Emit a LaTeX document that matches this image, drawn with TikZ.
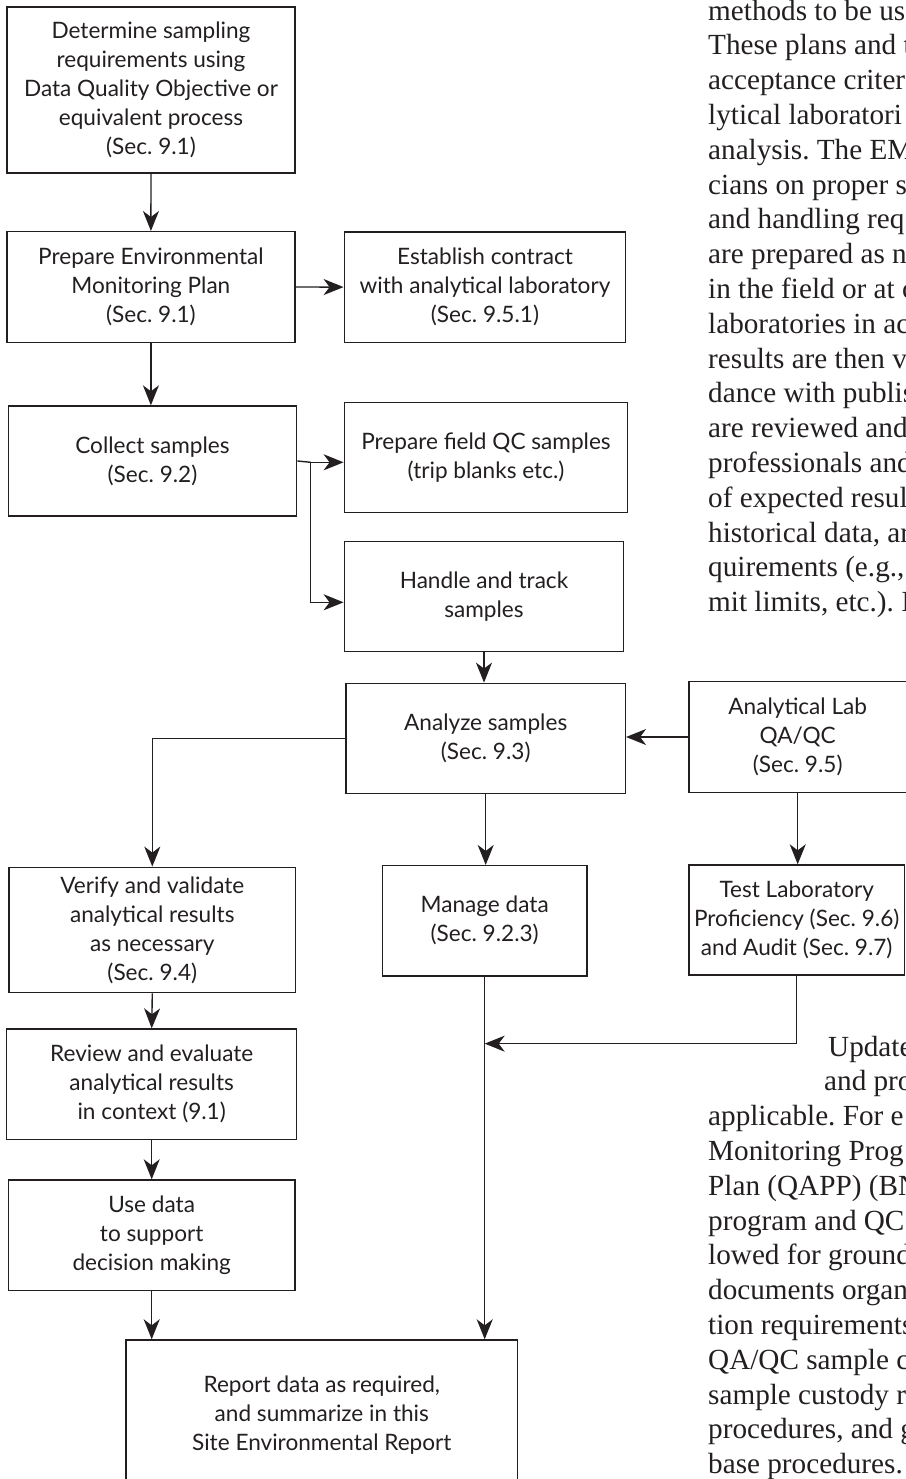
\documentclass[tikz,border=0pt]{standalone}
\usepackage{fontspec}
\setmainfont{Liberation Serif}
\newfontfamily\boxfont{Lato}
\usetikzlibrary{arrows.meta,calc}
\definecolor{ink}{RGB}{35,31,32}
\frenchspacing
\begin{document}
\begin{tikzpicture}[x=1pt,y=-1pt,
  procbox/.style={draw=ink,line width=1.4pt,align=center,inner sep=0pt,text=ink,
    font=\boxfont\fontsize{22.6}{29}\selectfont},
  flow/.style={draw=ink,line width=1.4pt,-{Stealth[length=20pt,width=16pt,inset=6pt]}},
  pagetext/.style={anchor=base west,inner sep=0pt,align=left,text=ink,
    font=\fontsize{29.2}{34.8}\selectfont}]
\useasboundingbox (0,0) rectangle (905,1479);
% left column
\node[procbox,minimum width=288,minimum height=166](det) at (151,90.2){Determine sampling\\requirements using\\Data Quality Objective or\\equivalent process\\(Sec. 9.1)};
\node[procbox,minimum width=288,minimum height=110.6](emp) at (150.9,287){Prepare Environmental\\Monitoring Plan\\(Sec. 9.1)};
\node[procbox,minimum width=288.4,minimum height=110](collect) at (152.5,461){Collect samples\\(Sec. 9.2)};
\node[procbox,minimum width=286.7,minimum height=125.4](verify) at (152.3,930){Verify and validate\\analytical results\\as necessary\\(Sec. 9.4)};
\node[procbox,minimum width=290,minimum height=110.3](review) at (151.7,1084.2){Review and evaluate\\analytical results\\in context (9.1)};
\node[procbox,minimum width=286.7,minimum height=110.7](use) at (151.7,1235.3){Use data\\to support\\decision making};
% middle column
\node[procbox,minimum width=281.4,minimum height=110.3](contract) at (485,287.1){Establish contract\\with analytical laboratory\\(Sec. 9.5.1)};
\node[procbox,minimum width=283.4,minimum height=110](qc) at (486,457.7){Prepare field QC samples\\(trip blanks etc.)};
\node[procbox,minimum width=279.4,minimum height=110](handle) at (484,596.7){Handle and track\\samples};
\node[procbox,minimum width=279.3,minimum height=110.2](analyze) at (485.7,738.4){Analyze samples\\(Sec. 9.3)};
\node[procbox,minimum width=204.7,minimum height=110.3](manage) at (484.7,920.8){Manage data\\(Sec. 9.2.3)};
\node[procbox,minimum width=391.7,minimum height=150](report) at (321.8,1415){Report data as required,\\and summarize in this\\Site Environmental Report};
% right column
\node[procbox,minimum width=217.4,minimum height=110.6](lab) at (797.7,737){Analytical Lab\\QA/QC\\(Sec. 9.5)};
\node[procbox,minimum width=215.3,minimum height=110](test) at (796.7,920){Test Laboratory\\Proficiency (Sec. 9.6)\\and Audit (Sec. 9.7)};
% connectors
\draw[flow](det.south)--(emp.north);
\draw[flow](emp.east)--(contract.west);
\draw[flow](emp.south)--(emp.south|-collect.north);
\coordinate(fork) at (310.7,462.3);
\draw[ink,line width=1.4pt](collect.east)--(fork);
\draw[flow](fork)--(fork-|qc.west);
\draw[flow](fork)|-($(handle.west)+(0,5.6)$);
\draw[flow](handle.south)--(handle.south|-analyze.north);
\draw[flow](analyze.west)-|(verify.north);
\draw[flow](lab.west)--(lab.west-|analyze.east);
\draw[flow](analyze.south)--(analyze.south|-manage.north);
\draw[flow](lab.south)--(lab.south|-test.north);
\path(manage.south)++(0,67)coordinate(merge);
\draw[flow](test.south)|-(merge);
\draw[flow](manage.south)--(manage.south|-report.north);
\draw[flow](verify.south)--(review.north);
\draw[flow](review.south)--(use.north);
\draw[flow](use.south)--(use.south|-report.north);
% running text of the page, cut by the right margin (base = last line)
\node[pagetext](pagetop) at (708,611.6){methods to be us\\These plans and t\\acceptance criter\\lytical laboratori\\analysis. The EM\\cians on proper s\\and handling req\\are prepared as n\\in the field or at c\\laboratories in ac\\results are then v\\dance with publis\\are reviewed and\\professionals and\\of expected resul\\historical data, ar\\quirements (e.g.,\\mit limits, etc.). I};
\node[pagetext](pagebottom) at (708,1473.6){\hspace*{120pt}Update\\\hspace*{116pt}and pro\\applicable. For e\\Monitoring Prog\\Plan (QAPP) (BN\\program and QC\\lowed for ground\\documents organ\\tion requirements\\QA/QC sample c\\sample custody r\\procedures, and g\\base procedures.};
\end{tikzpicture}
\end{document}
